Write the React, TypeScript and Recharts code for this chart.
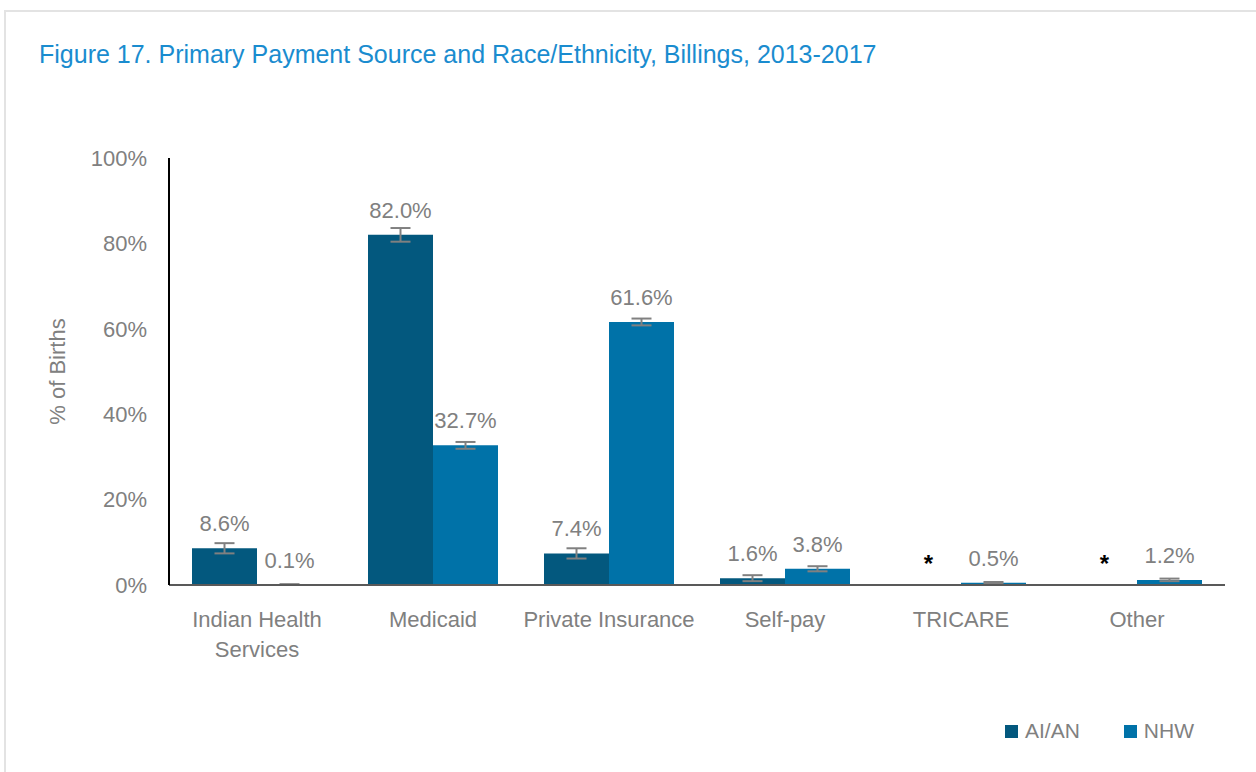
import { Bar, BarChart, ErrorBar, LabelList, Legend, XAxis, YAxis } from "recharts";

const AIAN = "#03587E";
const NHW = "#0072A8";
const GRAY = "#808080";
const FONT = "'Liberation Sans', Arial, sans-serif";

const categories = ["Indian Health Services", "Medicaid", "Private Insurance", "Self-pay", "TRICARE", "Other"];
const tickLines = [["Indian Health", "Services"], ["Medicaid"], ["Private Insurance"], ["Self-pay"], ["TRICARE"], ["Other"]];
const aianValues = [8.6, 82.0, 7.4, 1.6, 0, 0];
const aianErrors = [1.2, 1.6, 1.2, 0.7, 0, 0];
const aianSuppressed = [false, false, false, false, true, true];
const nhwValues = [0.1, 32.7, 61.6, 3.8, 0.5, 1.2];
const nhwErrors = [0.1, 0.8, 0.8, 0.6, 0.2, 0.3];
const yTicks = [0, 20, 40, 60, 80, 100];

const data = categories.map((c, i) => ({
  category: c,
  aian: aianValues[i],
  aianErr: aianErrors[i],
  nhw: nhwValues[i],
  nhwErr: nhwErrors[i],
}));

const CategoryTick = ({ x, y, index }: any) => (
  <text x={x} y={y} textAnchor="middle" fill={GRAY} fontSize={22} fontFamily={FONT}>
    {tickLines[index].map((line, j) => (
      <tspan key={j} x={x} dy={j === 0 ? 34 : 30}>
        {line}
      </tspan>
    ))}
  </text>
);

const valueLabel = (suppressed: boolean[] | null) => (props: any) => {
  const { x, y, width, value, index } = props;
  const cx = x + width / 2;
  if (suppressed && suppressed[index]) {
    return (
      <text x={cx} y={y - 12} textAnchor="middle" fill="#000" fontSize={24} fontWeight="bold" fontFamily={FONT}>
        *
      </text>
    );
  }
  return (
    <text x={cx} y={y - 17} textAnchor="middle" fill={GRAY} fontSize={22} fontFamily={FONT}>
      {`${Number(value).toFixed(1)}%`}
    </text>
  );
};

const LegendContent = () => (
  <div style={{ display: "flex", fontFamily: FONT, fontSize: 21, color: GRAY }}>
    {[
      { name: "AI/AN", color: AIAN },
      { name: "NHW", color: NHW },
    ].map((it) => (
      <div key={it.name} style={{ display: "flex", alignItems: "center", marginRight: 44 }}>
        <span style={{ width: 13, height: 13, background: it.color, marginRight: 7, display: "inline-block" }} />
        <span>{it.name}</span>
      </div>
    ))}
  </div>
);

export default function App() {
  return (
    <div style={{ position: "absolute", left: 0, top: 0, width: 1256, height: 772, overflow: "hidden", background: "#fff" }}>
      <div
        style={{
          position: "absolute",
          left: 4,
          top: 10,
          width: 1270,
          height: 790,
          border: "2px solid #e3e3e3",
          boxSizing: "border-box",
        }}
      />
      <div
        style={{
          position: "absolute",
          left: 39,
          top: 40,
          fontFamily: FONT,
          fontSize: 25,
          color: "#1a8ccf",
          whiteSpace: "nowrap",
        }}
      >
        Figure 17. Primary Payment Source and Race/Ethnicity, Billings, 2013-2017
      </div>
      <div style={{ position: "absolute", left: 0, top: 0 }}>
        <BarChart
          width={1256}
          height={772}
          data={data}
          margin={{ top: 158, right: 31, left: 69, bottom: 127 }}
          barCategoryGap={23}
          barGap={0}
        >
          <XAxis
            dataKey="category"
            interval={0}
            tickLine={false}
            axisLine={{ stroke: "#595959", strokeWidth: 2 }}
            tick={<CategoryTick />}
            height={60}
          />
          <YAxis
            domain={[0, 100]}
            ticks={yTicks}
            tickFormatter={(v) => `${v}%`}
            tickLine={false}
            axisLine={{ stroke: "#000", strokeWidth: 2 }}
            width={100}
            tickMargin={16}
            tick={{ fill: GRAY, fontSize: 22, fontFamily: FONT }}
            label={{
              value: "% of Births",
              angle: -90,
              position: "insideLeft",
              offset: -12,
              style: { fill: GRAY, fontSize: 22, fontFamily: FONT, textAnchor: "middle" },
            }}
          />
          <Legend
            layout="horizontal"
            verticalAlign="middle"
            align="center"
            content={<LegendContent />}
            wrapperStyle={{ left: 1005, top: 719, width: 240 }}
          />
          <Bar dataKey="aian" name="AI/AN" fill={AIAN} minPointSize={1} isAnimationActive={false}>
            <ErrorBar dataKey="aianErr" width={10} stroke={GRAY} strokeWidth={2} />
            <LabelList dataKey="aian" content={valueLabel(aianSuppressed)} />
          </Bar>
          <Bar dataKey="nhw" name="NHW" fill={NHW} isAnimationActive={false}>
            <ErrorBar dataKey="nhwErr" width={10} stroke={GRAY} strokeWidth={2} />
            <LabelList dataKey="nhw" content={valueLabel(null)} />
          </Bar>
        </BarChart>
      </div>
    </div>
  );
}
